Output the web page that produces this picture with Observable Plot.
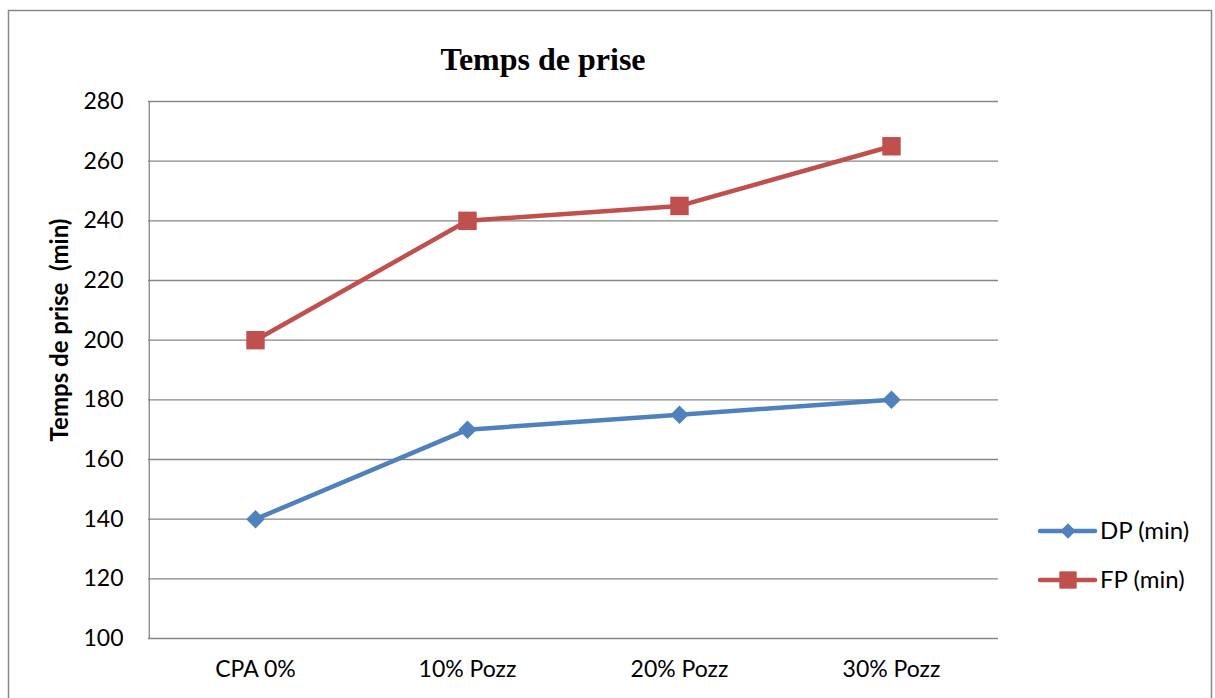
<!DOCTYPE html>
<html><head><meta charset="utf-8">
<script src="https://cdn.jsdelivr.net/npm/d3@7"></script>
<script src="https://cdn.jsdelivr.net/npm/@observablehq/plot@0.6"></script>
<style>
html,body{margin:0;padding:0;background:#fff;}
#wrap{position:relative;width:1215px;height:698px;overflow:hidden;}
#wrap svg{position:absolute;left:0;top:0;}
</style></head>
<body><div id="wrap"></div>
<script>
const categories = ["CPA 0%", "10% Pozz", "20% Pozz", "30% Pozz"];
const dpValues = [140, 170, 175, 180];
const fpValues = [200, 240, 245, 265];
const seriesNames = ["DP (min)", "FP (min)"];
const yTicks = [100, 120, 140, 160, 180, 200, 220, 240, 260, 280];
const colors = ["#4F81BD", "#C0504D"];
const titleText = "Temps de prise";
const yLabel = "Temps de prise  (min)";

const data = [];
categories.forEach((c, i) => {
  data.push({cat: c, value: dpValues[i], series: seriesNames[0]});
  data.push({cat: c, value: fpValues[i], series: seriesNames[1]});
});
const dp = data.filter(d => d.series === seriesNames[0]);
const fp = data.filter(d => d.series === seriesNames[1]);

const font = "Lato, 'Open Sans', sans-serif";
const W = 1215, H = 698;
const chart = Plot.plot({
  width: W, height: H,
  marginLeft: 148, marginRight: 217, marginTop: 101, marginBottom: 60,
  style: {fontFamily: font, fontSize: "23px", color: "#000", background: "transparent"},
  x: {type: "point", domain: categories, padding: 0.5, label: null},
  y: {domain: [100, 280], ticks: yTicks, label: null},
  marks: [
    Plot.ruleY(yTicks, {stroke: "#868686", strokeWidth: 1.3, strokeOpacity: 1}),
    Plot.ruleX([categories[0]], {stroke: "#868686", strokeWidth: 1.3, dx: -106.25}),
    Plot.axisY({ticks: yTicks, tickSize: 0, tickPadding: 25, fontSize: 23, label: null}),
    Plot.axisX({tickSize: 0, tickPadding: 22, fontSize: 23, label: null}),
    Plot.lineY(dp, {x: "cat", y: "value", stroke: colors[0], strokeWidth: 4.5}),
    Plot.lineY(fp, {x: "cat", y: "value", stroke: colors[1], strokeWidth: 4.5}),
    Plot.dot(dp, {x: "cat", y: "value", symbol: "diamond2", r: 8.3, fill: colors[0], stroke: null}),
    Plot.dot(fp, {x: "cat", y: "value", symbol: "square", r: 10.4, fill: colors[1], stroke: null})
  ]
});
const wrap = document.getElementById("wrap");
wrap.appendChild(chart);

// Overlay: border, title, y label, legend
const ov = d3.select(wrap).append("svg").attr("width", W).attr("height", H)
  .style("font-family", font);
ov.append("rect").attr("x", 8.5).attr("y", 10.5).attr("width", 1203).attr("height", 700)
  .attr("fill", "none").attr("stroke", "#868686").attr("stroke-width", 1.5);
ov.append("text").attr("x", 543).attr("y", 70).attr("text-anchor", "middle")
  .style("font-family", "'Liberation Serif', 'Times New Roman', serif")
  .style("font-weight", "bold").style("font-size", "32px").text(titleText);
ov.append("text").attr("transform", "translate(68,330) rotate(-90)")
  .attr("text-anchor", "middle").style("font-weight", "bold").style("font-size", "24px")
  .style("white-space", "pre").attr("xml:space", "preserve")
  .text(yLabel);
const lg = ov.selectAll("g.lg").data(seriesNames).join("g")
  .attr("transform", (d, i) => `translate(1040,${531 + i * 49})`);
lg.append("line").attr("x1", 0).attr("x2", 55).attr("stroke", (d, i) => colors[i])
  .attr("stroke-width", 4.5).attr("stroke-linecap", "round");
lg.append("path").attr("transform", "translate(28,0)")
  .attr("d", (d, i) => d3.symbol(i === 0 ? d3.symbolDiamond2 : d3.symbolSquare, i === 0 ? 150 : 300)())
  .attr("fill", (d, i) => colors[i]);
lg.append("text").attr("x", 60).attr("dy", "0.35em").style("font-size", "24px").text(d => d);
</script></body></html>
